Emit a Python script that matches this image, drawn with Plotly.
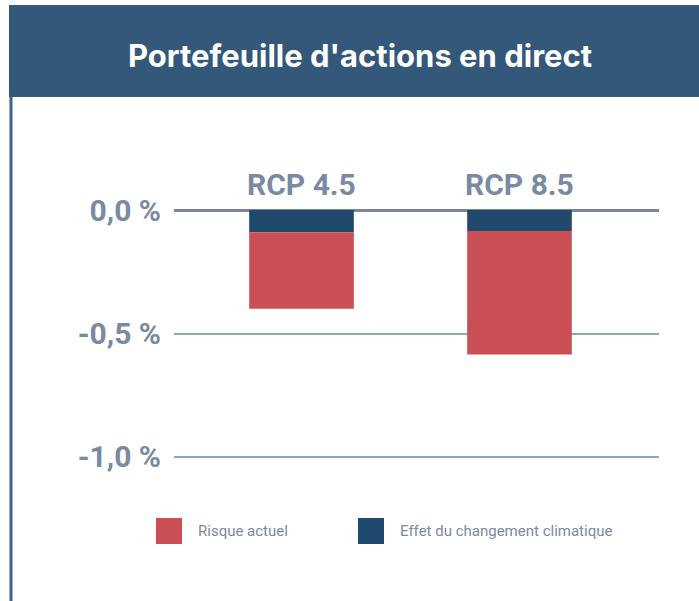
import plotly.graph_objects as go

# scenarios and values (% of portfolio)
scenarios = ["RCP 4.5", "RCP 8.5"]
effet_climat = [-0.09, -0.085]
risque_actuel = [-0.31, -0.50]
tick_vals = [0, -0.5, -1.0]
tick_text = ["0,0 %", "-0,5 %", "-1,0 %"]
legend_names = ["Risque actuel", "Effet du changement climatique"]

RED = "#c94f55"
NAVY = "#1f4a6e"
BAND = "#33587a"
GREY_TXT = "#7a8aa0"
LABEL_FONT = "Roboto, sans-serif"

W, H = 699, 601


def px_x(v):
    return v / W


def px_y(v):
    return 1 - v / H


fig = go.Figure()

# stacked from zero: climate effect first, then current risk below it
fig.add_trace(go.Bar(x=scenarios, y=effet_climat, marker_color=NAVY, marker_line_width=0,
                     width=0.48, name=legend_names[1], showlegend=False))
fig.add_trace(go.Bar(x=scenarios, y=risque_actuel, marker_color=RED, marker_line_width=0,
                     width=0.48, name=legend_names[0], showlegend=False))

# scenario labels above the bars
for s in scenarios:
    fig.add_annotation(x=s, y=0, text="<b>%s</b>" % s, showarrow=False,
                       yshift=26, font=dict(family=LABEL_FONT, size=30, color=GREY_TXT))

# title band and left border
fig.add_shape(type="rect", xref="paper", yref="paper",
              x0=px_x(9), x1=1.0, y0=px_y(97), y1=px_y(5),
              fillcolor=BAND, line_width=0, layer="below")
fig.add_shape(type="line", xref="paper", yref="paper",
              x0=px_x(11), x1=px_x(11), y0=0, y1=px_y(97),
              line=dict(color="#3e648a", width=3))
fig.add_annotation(xref="paper", yref="paper", x=px_x(360), y=px_y(55),
                   xanchor="center", yanchor="middle",
                   text="<b>Portefeuille d'actions en direct</b>", showarrow=False,
                   font=dict(family="Inter, Roboto, sans-serif", size=31, color="white"))

# custom legend with large squares
legend_items = [(156, legend_names[0], RED), (358, legend_names[1], NAVY)]
for x0, name, col in legend_items:
    fig.add_shape(type="rect", xref="paper", yref="paper",
                  x0=px_x(x0), x1=px_x(x0 + 26), y0=px_y(544), y1=px_y(518),
                  fillcolor=col, line_width=0)
    fig.add_annotation(xref="paper", yref="paper", x=px_x(x0 + 40), y=px_y(531),
                       xanchor="left", yanchor="middle", text=name, showarrow=False,
                       font=dict(family=LABEL_FONT, size=15, color=GREY_TXT))

fig.update_layout(
    width=W, height=H,
    margin=dict(l=0, r=0, t=0, b=0, pad=0, autoexpand=False),
    paper_bgcolor="white", plot_bgcolor="white",
    barmode="relative",
    xaxis=dict(domain=[px_x(174), px_x(659)], range=[-0.585, 1.64], automargin=False,
               showticklabels=False, showgrid=False, zeroline=False, fixedrange=True),
    yaxis=dict(domain=[px_y(464.4), px_y(202.6)], range=[-1.03, 0.03], automargin=False,
               tickvals=tick_vals, ticktext=tick_text, ticklabelstandoff=12,
               tickfont=dict(family=LABEL_FONT, size=30, color=GREY_TXT, weight="bold"),
               showgrid=True, gridcolor="#8ca6be", gridwidth=2,
               zeroline=True, zerolinecolor="#7b8797", zerolinewidth=2.5,
               showline=False, fixedrange=True),
    showlegend=False,
)

# drop the default 8px page margin so the figure fills the window
fig.write_html("out.html", config={"displayModeBar": False},
               post_script="document.body.style.margin='0';")
